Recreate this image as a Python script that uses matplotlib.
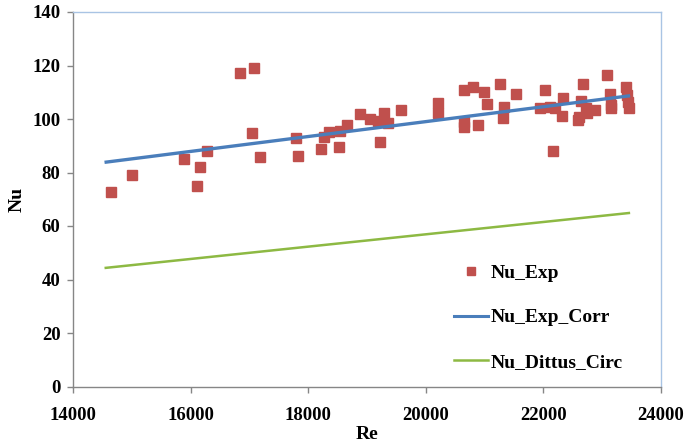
import matplotlib
matplotlib.use("Agg")
import matplotlib.pyplot as plt
from matplotlib.lines import Line2D

re_exp = [14639, 15008, 15887, 16103, 16166, 16286, 16836, 17079, 17052, 17176,
          17789, 17828, 18215, 18271, 18356, 18522, 18539, 18653, 18874, 19049,
          19181, 19288, 19220, 19356, 19572, 20207, 20207, 20655, 20809, 20991,
          21037, 20650, 20650, 20889, 21268, 21309, 21331, 21535, 21944, 22030,
          22115, 22200, 22331, 22314, 22161, 22672, 22638, 22597, 22580, 22728,
          22740, 22876, 23080, 23137, 23148, 23148, 23397, 23421, 23438, 23455]
nu_exp = [72.7, 79.1, 85.0, 74.9, 82.2, 88.1, 117.1, 119.2, 94.8, 85.9,
          92.8, 86.2, 88.9, 93.4, 95.1, 89.5, 95.4, 97.9, 101.8, 100.0,
          99.4, 102.1, 91.4, 98.4, 103.3, 105.9, 102.1, 110.8, 112.1, 110.1,
          105.6, 99.0, 97.1, 97.6, 113.0, 100.3, 104.4, 109.3, 104.0, 110.8,
          104.6, 104.0, 108.0, 101.2, 88.1, 113.0, 106.8, 100.9, 99.6, 104.0,
          102.4, 103.4, 116.4, 109.3, 105.2, 104.0, 112.1, 109.0, 106.5, 104.0]

re_line = [14536, 23475]
nu_corr = [83.8, 108.7]
nu_dittus = [44.3, 64.9]

x_ticks = [14000, 16000, 18000, 20000, 22000, 24000]
y_ticks = [0, 20, 40, 60, 80, 100, 120, 140]

plt.rcParams['font.family'] = ['Liberation Serif', 'DejaVu Serif']
plt.rcParams['font.weight'] = 'bold'

fig = plt.figure(figsize=(6.87, 4.45), dpi=100)
ax = fig.add_axes([73/687, 1-386.5/445, (661-73)/687, (386.5-12)/445])

red = '#C0504D'
blue = '#4A7EBB'
green = '#8DB943'

ax.plot(re_line, nu_corr, color=blue, lw=2.4, solid_capstyle='butt', zorder=3)
ax.plot(re_line, nu_dittus, color=green, lw=1.8, solid_capstyle='butt', zorder=3)
ax.plot(re_exp, nu_exp, linestyle='none', marker='s', markersize=6.5,
        color=red, markeredgecolor=red, zorder=2)

ax.set_xlim(14000, 24000)
ax.set_ylim(0, 140)
ax.set_xticks(x_ticks)
ax.set_yticks(y_ticks)
ax.tick_params(axis='both', labelsize=13.5, length=4, width=1, color='#868686',
               direction='out')
ax.tick_params(axis='y', pad=5)
ax.tick_params(axis='x', pad=11)
for lab in ax.get_xticklabels() + ax.get_yticklabels():
    lab.set_fontweight('bold')

for s in ['left', 'bottom']:
    ax.spines[s].set_color('#868686')
    ax.spines[s].set_linewidth(1.0)
for s in ['top', 'right']:
    ax.spines[s].set_color('#A9C4E4')
    ax.spines[s].set_linewidth(1.0)

ax.set_xlabel('Re', fontsize=14, fontweight='bold', labelpad=1)
ax.set_ylabel('Nu', fontsize=14, fontweight='bold', labelpad=5)

handles = [
    Line2D([], [], linestyle='none', marker='s', markersize=6, color=red),
    Line2D([], [], color=blue, lw=2.2),
    Line2D([], [], color=green, lw=1.8),
]
labels = ['Nu_Exp', 'Nu_Exp_Corr', 'Nu_Dittus_Circ']
leg = ax.legend(handles, labels, loc='upper left', bbox_to_anchor=(454/687, 1-264/445),
                bbox_transform=fig.transFigure, frameon=False, fontsize=14,
                handlelength=1.75, handletextpad=0.15, labelspacing=1.4, numpoints=1,
                borderpad=0, borderaxespad=0)
for t in leg.get_texts():
    t.set_fontweight('bold')

fig.savefig('out.png', dpi=100)
